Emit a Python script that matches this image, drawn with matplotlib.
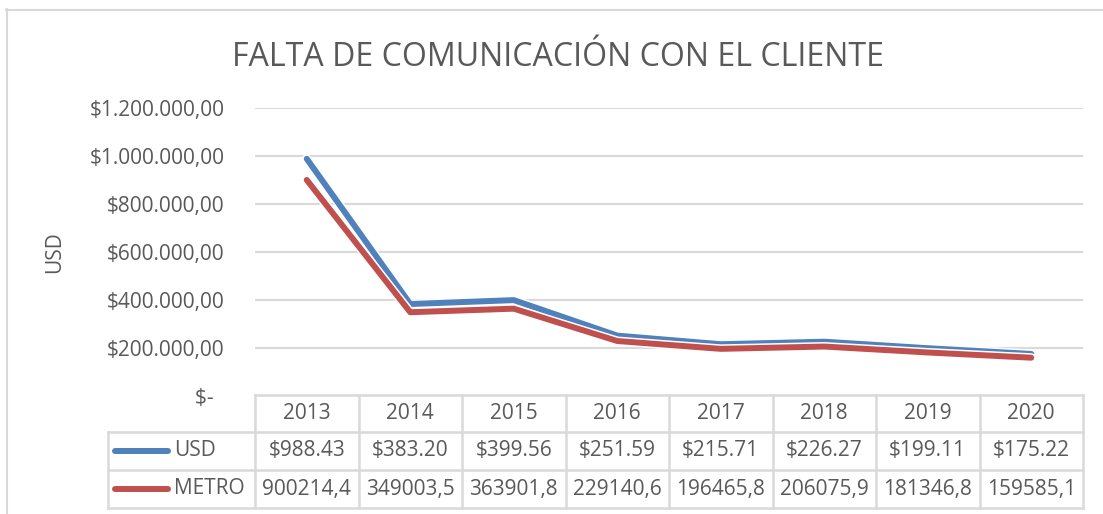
import numpy as np
import matplotlib.pyplot as plt
import matplotlib.patheffects as pe
from matplotlib.ticker import FuncFormatter

years = ['2013', '2014', '2015', '2016', '2017', '2018', '2019', '2020']
usd = [988.43, 383.20, 399.56, 251.59, 215.71, 226.27, 199.11, 175.22]
metro = [900214.4, 349003.5, 363901.8, 229140.6, 196465.8, 206075.9, 181346.8, 159585.1]
series_names = ['USD', 'METRO']

plt.rcParams['font.family'] = ['Open Sans', 'DejaVu Sans']
gray = '#595959'
grid = '#D9D9D9'
blue = '#4F81BD'
red = '#C0504D'

W, H = 1103, 514
fig = plt.figure(figsize=(W / 100, H / 100), dpi=100)

def fx(px):
    return px / W

def fy(py):
    return 1 - py / H

# outer chart border
fig.add_artist(plt.Line2D([fx(6.5), fx(6.5)], [fy(9), 0], color=grid, lw=1.5))
fig.add_artist(plt.Line2D([fx(6), 1], [fy(9.5), fy(9.5)], color=grid, lw=1.5))

left, right, top, bot = 255, 1083, 108, 396
ax = fig.add_axes([fx(left), fy(bot), fx(right) - fx(left), fy(top) - fy(bot)])
x = np.arange(len(years))
usd_plot = np.array(usd) * 1000

ax.set_xlim(-0.5, len(years) - 0.5)
ax.set_ylim(0, 1200000)
ax.set_yticks(np.arange(0, 1200001, 200000))
ax.grid(axis='y', color=grid, lw=1.5)
ax.set_axisbelow(True)
for s in ax.spines.values():
    s.set_visible(False)
ax.set_xticks([])
ax.tick_params(axis='y', length=0, pad=22, labelsize=15, labelcolor=gray)

def money(v, pos):
    if v == 0:
        return '$-  '
    s = f'{v:,.2f}'.replace(',', 'X').replace('.', ',').replace('X', '.')
    return '$' + s

ax.yaxis.set_major_formatter(FuncFormatter(money))

effects = [pe.Stroke(linewidth=6.5, foreground='white'), pe.Normal()]
ax.plot(x, usd_plot, color=blue, lw=4.3, solid_capstyle='round', solid_joinstyle='round',
        path_effects=effects, zorder=3)
ax.plot(x, metro, color=red, lw=4.3, solid_capstyle='round', solid_joinstyle='round',
        path_effects=effects, zorder=3)

fig.text(fx(55), fy(252), 'USD', rotation=90, ha='center', va='center', fontsize=15, color=gray)

# title, fitted to its width in the reference
title = fig.text(fx(558), fy(57), 'FALTA DE COMUNICACIÓN CON EL CLIENTE', ha='center', va='center',
                 fontsize=22, color=gray)
fig.canvas.draw()
tw = title.get_window_extent().width
title.set_fontsize(22 * 651 / tw)

# data table
rows_y = [395, 432, 470, 508]
leg_left = 108
col_w = (right - left) / len(years)
tl = dict(color=grid, lw=1.8)
fig.add_artist(plt.Line2D([fx(left), fx(right)], [fy(rows_y[0])] * 2, **tl))
for ry in rows_y[1:]:
    fig.add_artist(plt.Line2D([fx(leg_left), fx(right)], [fy(ry)] * 2, **tl))
fig.add_artist(plt.Line2D([fx(leg_left)] * 2, [fy(rows_y[1]), fy(rows_y[3])], **tl))
for i in range(len(years) + 1):
    cx = left + i * col_w
    fig.add_artist(plt.Line2D([fx(cx)] * 2, [fy(rows_y[0]), fy(rows_y[3])], **tl))

cells = [years,
         [f'${v:.2f}' for v in usd],
         [f'{v:.1f}'.replace('.', ',') for v in metro]]
for r, row in enumerate(cells):
    cy = (rows_y[r] + rows_y[r + 1]) / 2
    for i, txt in enumerate(row):
        fig.text(fx(left + (i + 0.5) * col_w), fy(cy), txt, ha='center', va='center',
                 fontsize=15, color=gray)

for r, (name, c) in enumerate(zip(series_names, [blue, red])):
    cy = (rows_y[r + 1] + rows_y[r + 2]) / 2
    fig.add_artist(plt.Line2D([fx(115), fx(168)], [fy(cy)] * 2, color=c, lw=4.3,
                              solid_capstyle='round'))
    fig.text(fx(174), fy(cy), name, ha='left', va='center', fontsize=15, color=gray)

fig.savefig('out.png', dpi=100)
